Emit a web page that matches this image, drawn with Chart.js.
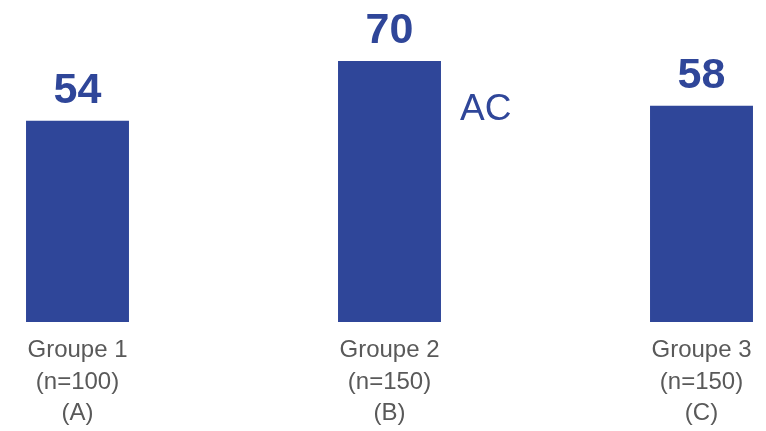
<!DOCTYPE html>
<html>
<head>
<meta charset="utf-8">
<script src="https://cdn.jsdelivr.net/npm/chart.js@4/dist/chart.umd.min.js"></script>
<style>
  html, body { margin: 0; padding: 0; background: #ffffff; }
  #wrap { width: 766px; height: 431px; }
</style>
</head>
<body>
<div id="wrap"><canvas id="chart" width="766" height="431"></canvas></div>
<script>
// chart data
const categories = [
    ['Groupe 1', '(n=100)', '(A)'],
    ['Groupe 2', '(n=150)', '(B)'],
    ['Groupe 3', '(n=150)', '(C)']
];
const values = [54, 70, 58];
const notes = ['', 'AC', ''];

const FONT = "'Liberation Sans', Arial, sans-serif";
const BLUE = '#2F4699';

// value above each bar + letters next to it
const barLabels = {
    id: 'barLabels',
    afterDatasetsDraw(chart) {
        const ctx = chart.ctx;
        const meta = chart.getDatasetMeta(0);
        ctx.save();
        ctx.fillStyle = BLUE;
        meta.data.forEach((bar, i) => {
            ctx.textAlign = 'center';
            ctx.textBaseline = 'alphabetic';
            ctx.font = 'bold 43px ' + FONT;
            ctx.fillText(values[i], bar.x, bar.y - 18);
            if (notes[i]) {
                ctx.textAlign = 'left';
                ctx.font = '37px ' + FONT;
                ctx.fillText(notes[i], bar.x + bar.width / 2 + 19, bar.y + 59);
            }
        });
        ctx.restore();
    }
};

new Chart(document.getElementById('chart'), {
    type: 'bar',
    data: {
        labels: categories,
        datasets: [{
            data: values,
            backgroundColor: BLUE,
            borderWidth: 0,
            barPercentage: 0.33,
            categoryPercentage: 1,
            clip: false
        }]
    },
    options: {
        responsive: false,
        animation: false,
        layout: { padding: { left: 77.5, right: 64.5, top: 0, bottom: 0 } },
        plugins: {
            legend: { display: false },
            tooltip: { enabled: false }
        },
        scales: {
            x: {
                offset: false,
                grid: { display: false, drawTicks: false },
                border: { display: false },
                afterFit(scale) { scale.height = 109; },
                ticks: {
                    color: '#595959',
                    padding: 13,
                    maxRotation: 0,
                    autoSkip: false,
                    font: { family: FONT, size: 24, lineHeight: 1.31 }
                }
            },
            y: {
                display: false,
                min: 0,
                max: 86.35
            }
        }
    },
    plugins: [barLabels]
});
</script>
</body>
</html>
